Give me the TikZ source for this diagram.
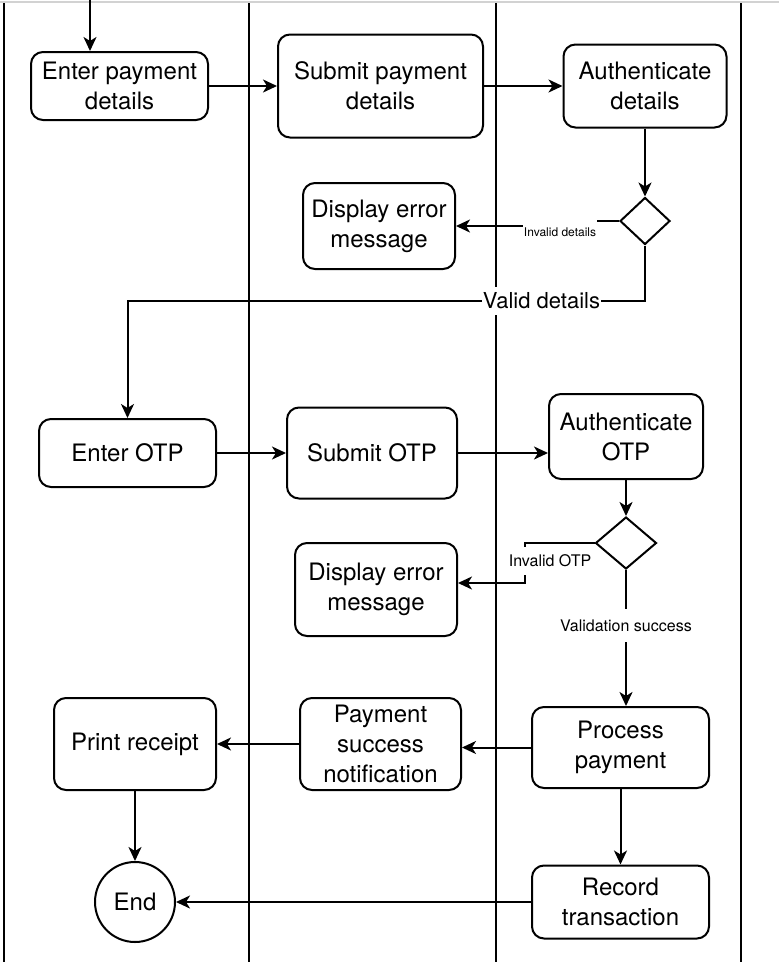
\documentclass[tikz,border=0pt]{standalone}
\usepackage{fontspec}
\setmainfont{TeX Gyre Heros}
\usetikzlibrary{arrows.meta,shapes.geometric}

\begin{document}
\begin{tikzpicture}[x=1pt, y=-1pt,
  every node/.style={font=\fontsize{24}{30}\selectfont, align=center},
  act/.style={draw, line width=2pt, rounded corners=12pt, inner sep=0pt},
  dec/.style={draw, diamond, line width=2pt, inner sep=0pt},
  flow/.style={line width=2pt, -{Stealth[length=14pt, width=13pt, inset=4pt]}},
  lbl/.style={fill=white, inner sep=1pt}]

\useasboundingbox (0,0) rectangle (779,967);

% LANES
\draw[gray!35, line width=1.2pt] (0,2) -- (779,2);
\foreach \lx in {4,249,496,741}
  \draw[line width=2.4pt] (\lx,3) -- (\lx,962);

% PAYMENT DETAILS
\coordinate (start) at (90,0);
\node[act, minimum width=177pt, minimum height=68pt]  (epay) at (119.5,86)  {Enter payment\\details};
\node[act, minimum width=205pt, minimum height=103pt] (spay) at (380.5,86) {Submit payment\\details};
\node[act, minimum width=163pt, minimum height=83pt]  (apay) at (645,86)  {Authenticate\\details};
\node[dec, minimum width=50pt, minimum height=47pt]   (d1)   at (645,221)   {};
\node[act, minimum width=152pt, minimum height=86pt]  (err1) at (379,226)   {Display error\\message};

% OTP
\node[act, minimum width=177pt, minimum height=68pt]  (otp1) at (127.5,453) {Enter OTP};
\node[act, minimum width=170pt, minimum height=91pt]  (sotp) at (372,453) {Submit OTP};
\node[act, minimum width=154pt, minimum height=85pt]  (aotp) at (626,436.5) {Authenticate\\OTP};
\node[dec, minimum width=61pt, minimum height=52pt]   (d2)   at (626,543)   {};
\node[act, minimum width=162pt, minimum height=93pt]  (err2) at (376,589.5) {Display error\\message};

% RESULT
\node[act, minimum width=177pt, minimum height=81pt]  (proc) at (620.5,747.5) {Process\\payment};
\node[act, minimum width=161pt, minimum height=92pt]  (note) at (380.5,744) {Payment\\success\\notification};
\node[act, minimum width=162pt, minimum height=92pt]  (rcpt) at (135,744)   {Print receipt};
\node[act, minimum width=177pt, minimum height=73pt]  (rec)  at (620.5,902) {Record\\transaction};
\node[draw, circle, line width=2pt, minimum size=80pt, inner sep=0pt] (end) at (135,902) {End};

% FLOWS
\draw[flow] (start) -- (epay.north -| start);
\draw[flow] (epay) -- (spay);
\draw[flow] (spay) -- (apay);
\draw[flow] (apay.south) -- (d1.north);
\draw[flow] (d1.west) -- ++(-59,0) |- node[lbl, pos=0.25, yshift=-8.5pt, minimum height=26pt, font=\fontsize{12}{14}\selectfont] {Invalid details} (err1.east);
\draw[flow] (d1.south) -- ++(0,55) -| node[lbl, pos=0.1, minimum height=28pt, font=\fontsize{22}{26}\selectfont] {Valid details} (otp1.north);
\draw[flow] (otp1) -- (sotp);
\draw[flow] (sotp.east) -- (sotp.east -| aotp.west);
\draw[flow] (aotp.south) -- (d2.north);
\draw[flow] (d2.west) -- ++(-70,0) |- node[lbl, pos=0.25, xshift=25.5pt, yshift=2pt, minimum height=28pt, font=\fontsize{16}{19}\selectfont] {Invalid OTP} ([yshift=6.5pt]err2.east);
\draw[flow] (d2.south) -- node[lbl, pos=0.41, minimum height=33pt, font=\fontsize{16}{19}\selectfont] {Validation success} (d2.south |- proc.north);
\draw[flow] (proc.west) -- (proc.west -| note.east);
\draw[flow] (note) -- (rcpt);
\draw[flow] (rcpt) -- (end);
\draw[flow] (proc) -- (rec);
\draw[flow] (rec) -- (end);

\end{tikzpicture}
\end{document}
